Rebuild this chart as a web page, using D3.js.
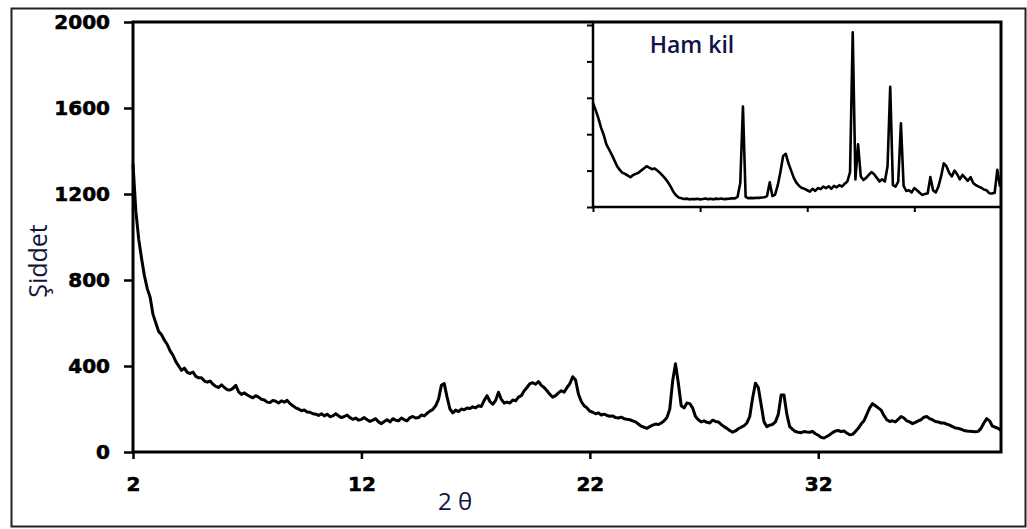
<!DOCTYPE html>
<html>
<head>
<meta charset="utf-8">
<script src="https://cdn.jsdelivr.net/npm/d3@7/dist/d3.min.js"></script>
<style>
  html, body { margin: 0; padding: 0; background: #fff; }
  svg { display: block; }
</style>
</head>
<body>
<svg id="chart" width="1027" height="529"></svg>
<script>
// Sampling grids (degrees 2θ)
const angleStart = 2;
const mainStep = 0.125;
const insetStep = 0.25;

// Treated sample: intensity per grid angle, one row per degree (2° … 39°), then 40°
const intensity = [
  1340, 1120, 990, 900, 820, 760, 720, 640,
  600, 560, 545, 520, 500, 470, 450, 420,
  400, 380, 390, 370, 365, 372, 352, 345,
  345, 330, 325, 330, 315, 305, 300, 312,
  300, 290, 288, 296, 310, 280, 268, 275,
  265, 258, 252, 262, 255, 245, 242, 232,
  230, 240, 236, 228, 238, 232, 240, 225,
  215, 205, 200, 192, 195, 186, 185, 178,
  176, 170, 178, 168, 176, 164, 168, 178,
  168, 160, 165, 172, 160, 152, 158, 148,
  152, 160, 150, 142, 148, 155, 140, 132,
  142, 150, 140, 155, 148, 145, 158, 150,
  145, 160, 165, 158, 160, 172, 168, 180,
  190, 198, 215, 245, 310, 318, 255, 200,
  182, 195, 188, 200, 196, 205, 202, 210,
  205, 215, 212, 240, 262, 235, 222, 240,
  278, 245, 228, 232, 228, 242, 238, 255,
  262, 285, 300, 318, 322, 315, 328, 310,
  300, 285, 268, 255, 262, 275, 285, 278,
  300, 318, 350, 335, 270, 235, 215, 205,
  190, 185, 178, 182, 172, 176, 170, 166,
  168, 160, 158, 162, 155, 152, 150, 145,
  140, 130, 120, 115, 110, 118, 125, 130,
  128, 135, 145, 160, 200, 330, 410, 320,
  215, 205, 228, 225, 205, 165, 150, 140,
  145, 138, 135, 148, 142, 140, 128, 118,
  110, 100, 92, 98, 108, 115, 122, 135,
  165, 250, 320, 300, 220, 140, 118, 125,
  128, 140, 175, 265, 265, 175, 118, 105,
  95, 92, 90, 95, 93, 92, 96, 85,
  78, 68, 65, 72, 80, 90, 98, 100,
  95, 98, 88, 80, 82, 95, 110, 130,
  145, 175, 205, 225, 215, 205, 195, 170,
  150, 142, 145, 140, 152, 165, 158, 145,
  140, 132, 138, 145, 150, 162, 165, 155,
  150, 142, 140, 135, 135, 130, 125, 118,
  112, 110, 106, 100, 98, 96, 95, 94,
  96, 110, 135, 155, 145, 120, 115, 110,
  100
];

// Raw clay ("Ham kil"): intensity per grid angle, 2.00° … 40.00°
const rawIntensity = [
  1430, 1330, 1220, 1090, 990, 860, 790, 720, 640, 560,
  510, 470, 455, 430, 410, 440, 455, 470, 500, 530,
  560, 540, 520, 530, 500, 470, 430, 390, 340, 280,
  210, 160, 130, 120, 110, 115, 105, 110, 108, 112,
  105, 110, 118, 108, 112, 105, 115, 110, 118, 108,
  112, 115, 120, 118, 140, 330, 1380, 140, 120, 125,
  122, 128, 125, 130, 135, 150, 340, 150, 170, 300,
  480, 700, 730, 600, 500, 400, 330, 290, 260, 250,
  230, 210, 250, 220, 260, 245, 280, 260, 285, 250,
  290, 270, 300, 280, 320, 350, 480, 2400, 380, 860,
  420, 370, 400, 440, 480, 450, 400, 350, 380, 350,
  560, 1650, 300, 280, 350, 1150, 290, 220, 230, 200,
  260, 230, 195, 165, 180, 190, 410, 230, 200, 280,
  420, 600, 560, 470, 420, 500, 450, 380, 440, 400,
  360, 410, 330, 300, 280, 265, 240, 230, 190, 185,
  195, 510, 280
];

// Axis ticks
const xTicks = [2, 12, 22, 32];
const yTicks = [0, 400, 800, 1200, 1600, 2000];
const insetYTicks = [0, 500, 1000, 1500, 2000, 2500];

const xLabel = "2 θ";
const yLabel = "Şiddet";
const insetTitle = "Ham kil";

const toPoints = (arr, step) => arr.map((v, i) => [angleStart + i * step, v]);
const mainData = toPoints(intensity, mainStep);
const insetData = toPoints(rawIntensity, insetStep);

const svg = d3.select("#chart");

// Outer border
svg.append("rect")
  .attr("x", 11.5).attr("y", 8.5)
  .attr("width", 1014).attr("height", 518)
  .attr("fill", "none").attr("stroke", "#222").attr("stroke-width", 2);

// Main plot
const plot = { left: 133, right: 1001, top: 22, bottom: 452 };
const x = d3.scaleLinear().domain([2, 40]).range([plot.left, plot.right]);
const y = d3.scaleLinear().domain([0, 2000]).range([plot.bottom, plot.top]);

const tickFont = g => g.selectAll("text")
  .attr("font-family", "'DejaVu Sans', sans-serif")
  .attr("font-weight", "bold")
  .attr("font-size", 20)
  .attr("fill", "#000")
  .attr("stroke", "#000")
  .attr("stroke-width", 0.6);

const yAxis = svg.append("g")
  .attr("transform", `translate(${plot.left},0)`)
  .call(d3.axisLeft(y).tickValues(yTicks).tickSize(9).tickPadding(14).tickFormat(d3.format("d")));
yAxis.select(".domain").remove();
yAxis.selectAll("line").attr("stroke", "#000").attr("stroke-width", 2.5);
yAxis.call(tickFont);

const xAxis = svg.append("g")
  .attr("transform", `translate(0,${plot.bottom})`)
  .call(d3.axisBottom(x).tickValues(xTicks).tickSize(7).tickPadding(18).tickFormat(d3.format("d")));
xAxis.select(".domain").remove();
xAxis.selectAll("line").attr("stroke", "#000").attr("stroke-width", 2.5);
xAxis.call(tickFont);

// Diffraction pattern of the treated sample
const line = d3.line().x(d => x(d[0])).y(d => y(d[1]));
svg.append("path")
  .datum(mainData)
  .attr("d", line)
  .attr("fill", "none")
  .attr("stroke", "#000")
  .attr("stroke-width", 3)
  .attr("stroke-linejoin", "round");

// Inset: raw clay pattern
const inset = { left: 593, right: 1000, top: 25, bottom: 207 };
const xi = d3.scaleLinear().domain([2, 40]).range([inset.left, inset.right]);
const yi = d3.scaleLinear().domain([0, 2500]).range([inset.bottom, inset.top]);

svg.append("rect")
  .attr("x", inset.left).attr("y", plot.top)
  .attr("width", inset.right - inset.left).attr("height", inset.bottom - plot.top)
  .attr("fill", "#fff");

const yiAxis = svg.append("g")
  .attr("transform", `translate(${inset.left},0)`)
  .call(d3.axisLeft(yi).tickValues(insetYTicks).tickSize(6).tickFormat(""));
yiAxis.select(".domain").remove();
yiAxis.selectAll("line").attr("stroke", "#000").attr("stroke-width", 2);

const xiAxis = svg.append("g")
  .attr("transform", `translate(0,${inset.bottom})`)
  .call(d3.axisBottom(xi).tickValues(xTicks).tickSize(5).tickFormat(""));
xiAxis.select(".domain").remove();
xiAxis.selectAll("line").attr("stroke", "#000").attr("stroke-width", 2);

svg.append("path")
  .attr("d", `M${inset.left},${plot.top}V${inset.bottom}H${inset.right}`)
  .attr("fill", "none").attr("stroke", "#000").attr("stroke-width", 2.5);

const linei = d3.line().x(d => xi(d[0])).y(d => yi(d[1]));
svg.append("path")
  .datum(insetData)
  .attr("d", linei)
  .attr("fill", "none")
  .attr("stroke", "#000")
  .attr("stroke-width", 2.6)
  .attr("stroke-linejoin", "round");

svg.append("text")
  .attr("x", 692).attr("y", 53)
  .attr("text-anchor", "middle")
  .attr("font-family", "'Open Sans', 'Liberation Sans', sans-serif")
  .attr("font-weight", 600)
  .attr("font-size", 23)
  .attr("fill", "#12124a")
  .text(insetTitle);

// Main plot frame
svg.append("rect")
  .attr("x", plot.left).attr("y", plot.top)
  .attr("width", plot.right - plot.left).attr("height", plot.bottom - plot.top)
  .attr("fill", "none").attr("stroke", "#000").attr("stroke-width", 3);

// Axis titles
svg.append("text")
  .attr("x", 455).attr("y", 510)
  .attr("text-anchor", "middle")
  .attr("font-family", "'Open Sans', 'Liberation Sans', sans-serif")
  .attr("font-size", 24)
  .attr("fill", "#14143c")
  .text(xLabel);

svg.append("text")
  .attr("transform", "translate(47,261) rotate(-90)")
  .attr("text-anchor", "middle")
  .attr("font-family", "'Open Sans', 'Liberation Sans', sans-serif")
  .attr("font-size", 25)
  .attr("fill", "#14143c")
  .text(yLabel);
</script>
</body>
</html>
